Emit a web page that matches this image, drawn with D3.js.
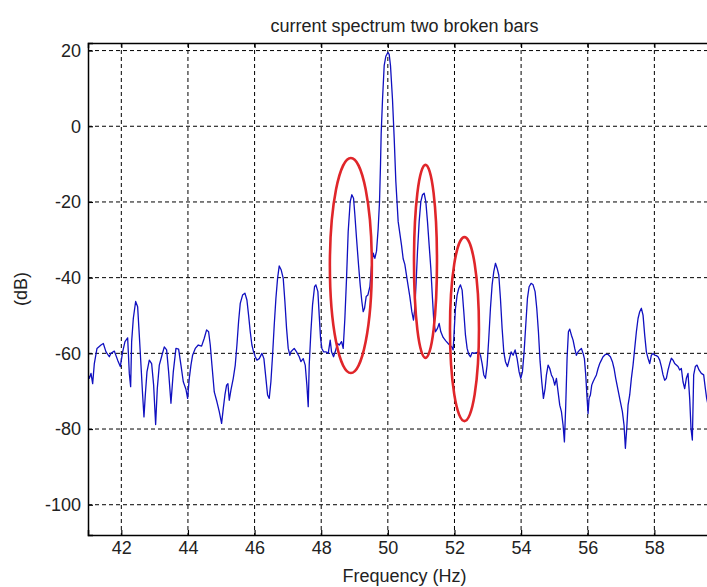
<!DOCTYPE html>
<html>
<head>
<meta charset="utf-8">
<script src="https://cdn.jsdelivr.net/npm/d3@7"></script>
<style>
  html, body { margin: 0; padding: 0; background: #fff; }
  svg { display: block; }
  text { font-family: "Liberation Sans", Arial, sans-serif; fill: #222; }
</style>
</head>
<body>
<svg id="chart" width="707" height="587"></svg>
<script>
// ---- data ----
const titleText = "current spectrum two broken bars";
const xLabel = "Frequency (Hz)";
const yLabel = "(dB)";
const xTicks = [42, 44, 46, 48, 50, 52, 54, 56, 58];
const yTicks = [20, 0, -20, -40, -60, -80, -100];
const xDomain = [41, 60];
const yDomain = [-108, 22];

const freq = [
  41.00,41.04,41.09,41.14,41.19,41.27,41.39,41.46,41.54,41.64,41.69,41.79,41.89,41.97,
  42.04,42.11,42.19,42.24,42.28,42.31,42.36,42.43,42.49,42.54,42.59,42.64,42.68,42.72,42.77,42.84,42.91,42.97,
  43.03,43.08,43.14,43.22,43.29,43.36,43.42,43.49,43.56,43.64,43.72,43.79,43.86,43.94,43.99,
  44.04,44.09,44.14,44.22,44.31,44.41,44.49,44.56,44.62,44.67,44.72,44.79,44.87,44.94,
  45.01,45.06,45.11,45.16,45.20,45.24,45.29,45.36,45.42,45.47,45.52,45.57,45.64,45.71,45.77,45.82,45.87,45.92,45.97,
  46.02,46.07,46.14,46.22,46.28,46.34,46.39,46.44,46.49,46.54,46.59,46.64,46.69,46.74,46.80,46.86,46.91,46.96,
  47.01,47.06,47.09,47.19,47.26,47.34,47.39,47.46,47.52,47.57,47.61,47.64,47.69,47.74,47.80,47.84,47.90,47.94,47.98,
  48.02,48.07,48.14,48.21,48.27,48.31,48.37,48.42,48.49,48.54,48.61,48.66,48.71,48.76,48.81,48.87,48.92,48.97,
  49.01,49.06,49.12,49.17,49.22,49.26,49.30,49.35,49.40,49.46,49.51,49.56,49.61,49.66,49.71,49.75,49.78,49.80,49.84,49.89,49.94,
  50.00,50.04,50.08,50.14,50.19,50.24,50.31,50.41,50.46,50.51,50.59,50.66,50.72,50.77,50.81,50.85,50.89,50.94,50.99,
  51.04,51.09,51.14,51.19,51.24,51.29,51.34,51.38,51.43,51.49,51.54,51.59,51.66,51.74,51.83,51.92,51.96,51.99,
  52.03,52.08,52.13,52.18,52.23,52.28,52.33,52.38,52.43,52.48,52.53,52.59,52.66,52.73,52.78,52.83,52.88,52.93,52.98,
  53.03,53.08,53.13,53.18,53.23,53.28,53.33,53.38,53.43,53.48,53.53,53.59,53.64,53.70,53.76,53.82,53.88,53.94,53.99,
  54.04,54.09,54.14,54.19,54.24,54.30,54.36,54.42,54.47,54.52,54.57,54.62,54.67,54.72,54.76,54.81,54.86,54.91,54.96,
  55.01,55.06,55.11,55.16,55.21,55.26,55.30,55.34,55.38,55.42,55.46,55.51,55.56,55.61,55.66,55.71,55.76,55.81,55.86,55.90,55.94,55.98,
  56.01,56.04,56.08,56.12,56.16,56.21,56.26,56.31,56.36,56.41,56.46,56.53,56.61,56.68,56.74,56.79,56.84,56.91,56.98,
  57.04,57.09,57.13,57.17,57.21,57.26,57.31,57.36,57.41,57.46,57.51,57.56,57.61,57.66,57.71,57.76,57.81,57.86,57.91,57.96,
  58.01,58.06,58.11,58.16,58.21,58.26,58.31,58.36,58.41,58.46,58.51,58.56,58.61,58.66,58.71,58.76,58.81,58.86,58.91,58.96,
  59.01,59.06,59.10,59.14,59.18,59.23,59.28,59.34,59.41,59.48,59.53,59.57,59.62,59.70
];
const dB = [
  -65.7,-66.6,-65.3,-68.0,-62.7,-58.7,-57.8,-57.4,-59.6,-60.9,-60.0,-59.4,-61.8,-63.5,
  -59.6,-56.9,-55.9,-65.3,-68.8,-56.9,-50.8,-46.3,-47.7,-55.2,-63.1,-71.0,-76.8,-71.0,-64.9,-61.8,-62.7,-68.4,
  -78.8,-69.3,-63.1,-60.5,-58.3,-59.1,-64.9,-73.2,-64.9,-58.7,-58.9,-63.1,-67.5,-69.5,-71.9,
  -66.6,-63.1,-60.5,-58.7,-57.8,-58.1,-56.0,-53.8,-54.3,-57.8,-63.1,-70.2,-72.8,-75.4,
  -78.5,-74.6,-71.0,-68.4,-68.0,-72.4,-69.7,-66.6,-63.1,-57.8,-51.6,-46.8,-44.6,-44.1,-45.9,-49.9,-54.3,-57.8,-59.6,
  -60.9,-61.8,-61.4,-60.0,-61.4,-66.6,-71.0,-71.9,-67.5,-60.5,-52.5,-45.5,-40.2,-36.9,-38.0,-40.2,-46.3,-53.4,
  -58.7,-60.5,-59.6,-58.7,-59.6,-60.9,-62.2,-61.4,-63.1,-68.4,-74.1,-63.1,-54.3,-47.2,-42.4,-41.9,-43.7,-49.9,-56.0,
  -58.7,-59.6,-59.6,-60.0,-56.5,-59.6,-60.9,-59.6,-57.4,-57.8,-56.9,-58.7,-50.8,-40.2,-27.8,-19.9,-18.1,-19.0,
  -23.4,-29.6,-36.6,-41.9,-46.3,-49.0,-48.1,-45.0,-44.6,-42.4,-37.0,-33.5,-34.9,-33.0,-27.0,-20.0,-10.0,-2.0,7.0,16.0,18.5,
  19.5,19.0,16.0,7.0,-3.0,-14.6,-25.2,-31.4,-35.0,-36.5,-41.1,-45.0,-49.0,-51.2,-48.1,-41.1,-33.1,-25.2,-19.9,
  -18.1,-17.7,-19.9,-25.2,-31.4,-37.5,-45.5,-51.6,-54.3,-53.4,-52.1,-54.3,-55.8,-56.7,-57.6,-58.3,-59.1,-54.3,
  -48.1,-44.6,-42.8,-41.9,-43.3,-49.0,-55.2,-58.7,-60.3,-60.9,-59.8,-60.0,-59.8,-59.6,-60.5,-62.7,-65.7,-66.6,-63.1,
  -56.0,-48.1,-41.9,-38.4,-36.2,-37.5,-39.3,-45.5,-53.4,-59.6,-62.2,-63.5,-61.8,-59.6,-60.5,-59.1,-61.4,-64.9,-66.6,
  -64.9,-59.6,-52.5,-45.5,-42.4,-41.5,-41.9,-43.7,-48.1,-54.3,-62.2,-67.5,-71.9,-69.3,-65.7,-63.1,-64.0,-65.7,-66.6,
  -68.4,-66.6,-70.2,-73.7,-75.4,-79.0,-83.4,-73.7,-61.3,-54.3,-53.6,-55.2,-56.5,-58.7,-60.5,-59.6,-59.1,-58.7,-60.0,-61.4,-65.7,-71.9,
  -75.9,-71.9,-71.0,-68.4,-67.5,-66.6,-65.7,-64.0,-62.7,-61.8,-60.9,-60.3,-60.3,-60.9,-62.2,-64.0,-66.6,-69.7,-72.8,
  -75.4,-79.0,-85.1,-79.9,-73.7,-71.0,-66.6,-63.1,-58.7,-54.3,-50.8,-49.0,-48.1,-49.9,-55.2,-59.6,-61.3,-62.7,-60.5,-60.0,
  -60.5,-60.6,-60.9,-61.8,-63.5,-65.7,-67.1,-66.6,-64.4,-62.7,-61.3,-61.8,-62.7,-63.1,-63.5,-64.4,-64.0,-67.5,-69.3,-66.6,
  -65.3,-71.9,-79.9,-82.9,-65.7,-63.5,-63.1,-64.4,-65.3,-65.7,-69.3,-71.9,-74.0,-73.0
];

// annotation ellipses (centre freq, centre dB, half-width Hz, half-height dB)
const ellipseFreq = [48.89, 51.13, 52.30];
const ellipseDB = [-36.8, -35.7, -53.6];
const ellipseHalfWidth = [0.63, 0.345, 0.435];
const ellipseHalfHeight = [28.4, 25.5, 24.3];

// ---- layout ----
const mLeft = 88, mRight = 721, mTop = 43, mBottom = 535;
const svg = d3.select("#chart");
const x = d3.scaleLinear().domain(xDomain).range([mLeft, mRight]);
const y = d3.scaleLinear().domain(yDomain).range([mBottom, mTop]);

svg.append("defs").append("clipPath").attr("id", "plotclip")
  .append("rect").attr("x", mLeft).attr("y", mTop).attr("width", mRight - mLeft).attr("height", mBottom - mTop);

// gridlines
const grid = svg.append("g");
grid.selectAll("line.vg").data(xTicks).join("line").attr("class", "vg")
  .attr("x1", d => x(d)).attr("x2", d => x(d))
  .attr("y1", mTop).attr("y2", mBottom)
  .attr("stroke", "#000").attr("stroke-width", 1).attr("stroke-dasharray", "4,3");
grid.selectAll("line.hg").data(yTicks).join("line").attr("class", "hg")
  .attr("x1", mLeft).attr("x2", mRight)
  .attr("y1", d => y(d)).attr("y2", d => y(d))
  .attr("stroke", "#000").attr("stroke-width", 1).attr("stroke-dasharray", "4,3");

// spectrum line
const pts = freq.map((f, i) => [f, dB[i]]);
svg.append("path")
  .attr("clip-path", "url(#plotclip)")
  .attr("d", d3.line().x(d => x(d[0])).y(d => y(d[1]))(pts))
  .attr("fill", "none").attr("stroke", "#1010c0").attr("stroke-width", 1.3)
  .attr("stroke-linejoin", "round");

// red ellipses
svg.append("g").selectAll("ellipse").data(ellipseFreq).join("ellipse")
  .attr("cx", d => x(d))
  .attr("cy", (d, i) => y(ellipseDB[i]))
  .attr("rx", (d, i) => x(d + ellipseHalfWidth[i]) - x(d))
  .attr("ry", (d, i) => y(ellipseDB[i] - ellipseHalfHeight[i]) - y(ellipseDB[i]))
  .attr("fill", "none").attr("stroke", "#e0262a").attr("stroke-width", 2.6);

// axes
const xAxisB = d3.axisBottom(x).tickValues(xTicks).tickSize(-5).tickPadding(6).tickFormat(d3.format("d"));
const gxb = svg.append("g").attr("transform", `translate(0,${mBottom})`).call(xAxisB);
const xAxisT = d3.axisTop(x).tickValues(xTicks).tickSize(-5).tickFormat("");
const gxt = svg.append("g").attr("transform", `translate(0,${mTop})`).call(xAxisT);
const yAxisL = d3.axisLeft(y).tickValues(yTicks).tickSize(-5).tickPadding(7).tickFormat(d3.format("d"));
const gyl = svg.append("g").attr("transform", `translate(${mLeft},0)`).call(yAxisL);

[gxb, gxt, gyl].forEach(g => {
  g.select(".domain").attr("stroke", "#000").attr("stroke-width", 1.5);
  g.selectAll(".tick line").attr("stroke", "#000").attr("stroke-width", 1.2);
  g.selectAll("text").attr("font-size", 18).attr("fill", "#222")
    .attr("font-family", "'Liberation Sans', Arial, sans-serif");
});
gyl.selectAll(".tick text").text(d => d < 0 ? "-" + Math.abs(d) : d);

// texts
svg.append("text").attr("x", (mLeft + mRight) / 2).attr("y", 32)
  .attr("text-anchor", "middle").attr("font-size", 18).text(titleText);
svg.append("text").attr("x", (mLeft + mRight) / 2).attr("y", 582)
  .attr("text-anchor", "middle").attr("font-size", 18).text(xLabel);
svg.append("text").attr("transform", `translate(27,${(mTop + mBottom) / 2}) rotate(-90)`)
  .attr("text-anchor", "middle").attr("font-size", 18).text(yLabel);
</script>
</body>
</html>
